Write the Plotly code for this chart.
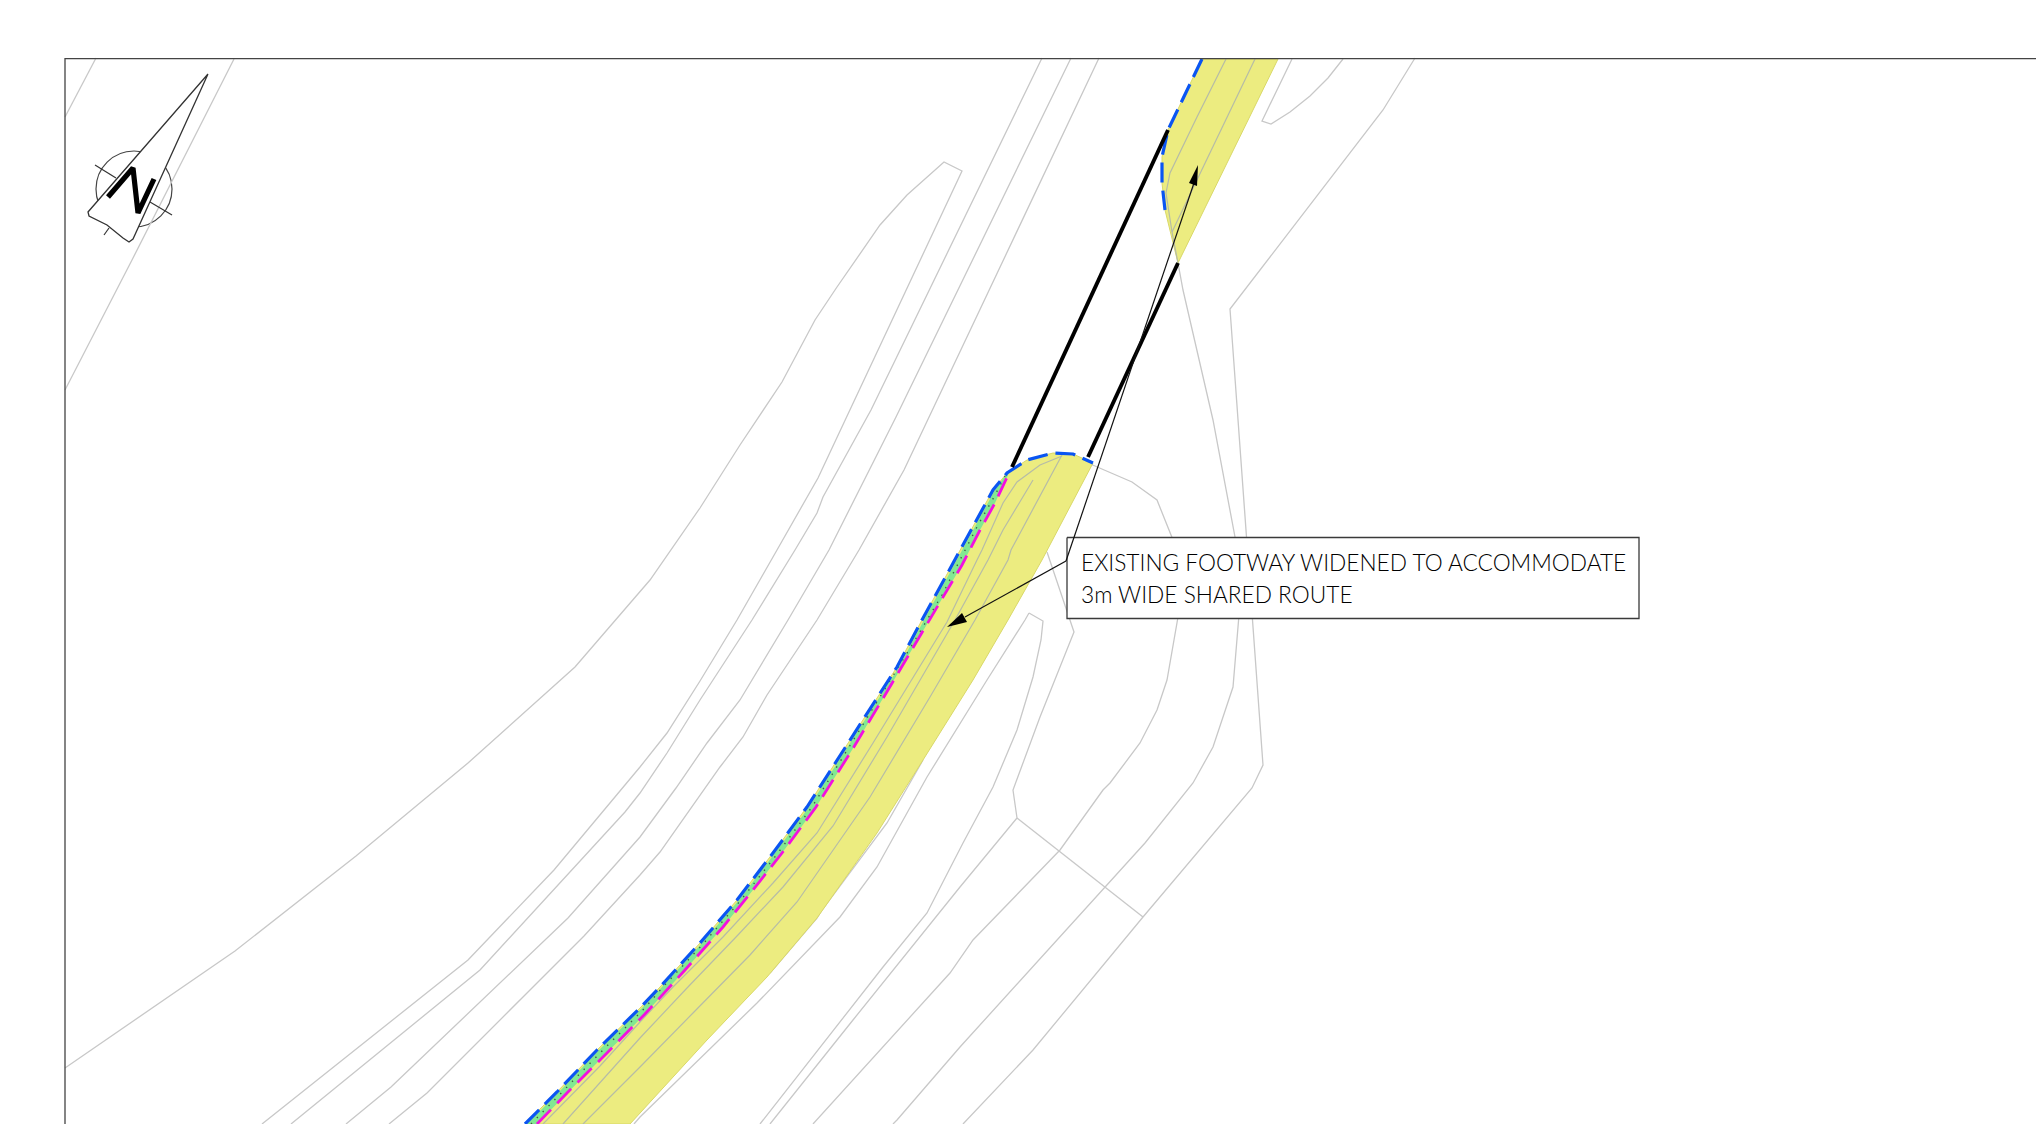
import plotly.graph_objects as go

frame = [(65, 1124), (65, 58.6), (2036, 58.6)]

kerb_nw_corner = [(96, 58), (65, 117)]
kerb_nw_long = [(234, 59), (132, 260), (65, 390)]
verge_west = [(65, 1068), (235, 951), (356, 856), (468, 763), (575, 667), (650, 580), (700, 508), (740, 445), (782, 382),
              (815, 320), (837, 287), (880, 225), (907, 195), (944, 162), (962, 171), (818, 478), (777, 550),
              (737, 620), (700, 681), (667, 733), (640, 767), (554, 870), (468, 960), (276, 1113), (262, 1124)]
carriage_w1 = [(1042, 58), (871, 410), (823, 497), (817, 513), (795, 550), (752, 620), (700, 700), (667, 753),
               (640, 793), (625, 812), (480, 970), (327, 1095), (291, 1124)]
carriage_w2 = [(1071, 58), (896, 417), (829, 550), (788, 620), (740, 700), (707, 743), (676, 788), (640, 837),
               (568, 918), (391, 1087), (346, 1124)]
carriage_w3 = [(1099, 58), (904, 470), (859, 550), (817, 620), (767, 695), (743, 737), (720, 767), (660, 852),
               (640, 875), (584, 936), (427, 1093), (389, 1124)]
island_e_left = [(1029, 613), (1025, 620), (987, 680), (927, 777), (877, 867), (840, 917), (757, 1003), (640, 1117),
                 (634, 1124)]
island_e_right = [(1029, 613), (1043, 621), (1041, 640), (1033, 677), (1017, 730), (993, 787), (963, 843), (927, 913),
                  (883, 967), (763, 1120), (760, 1124)]
kerb_e = [(1047, 552), (1063, 600), (1074, 632), (1040, 717), (1013, 790), (1017, 818), (960, 887), (853, 1020),
          (773, 1120), (770, 1124)]
cross_line = [(1017, 818), (1143, 917)]
outer_e = [(1415, 58), (1400, 83), (1383, 110), (1230, 309), (1252, 615), (1263, 765), (1252, 788), (1143, 917),
           (1033, 1050), (963, 1124)]
curve_e1 = [(1088, 463), (1132, 482), (1157, 500), (1173, 540), (1178, 617), (1167, 680), (1157, 710), (1140, 743),
            (1110, 783), (1103, 790), (1060, 850), (973, 940), (950, 973), (817, 1120), (813, 1124)]
curve_e2 = [(1178, 263), (1183, 290), (1213, 420), (1235, 537), (1239, 615), (1233, 687), (1213, 747), (1193, 783),
            (1145, 843), (1105, 887), (1072, 923), (960, 1047), (897, 1120), (893, 1124)]
wedge = [(1292, 59), (1262, 121), (1271, 124), (1290, 112), (1310, 96), (1328, 78), (1343, 59)]
verge_edge = [(923, 760), (887, 823), (822, 910), (817, 918), (770, 973)]

blue_south = [(525, 1124), (557, 1092), (597, 1050), (640, 1008), (660, 987), (700, 943), (737, 900), (773, 853),
              (807, 807), (837, 760), (867, 713), (897, 667), (922, 620), (953, 563),
              (977, 520), (993, 490), (1007, 473), (1027, 460), (1053, 453), (1073, 454), (1093, 463)]
blue_north = [(1202, 59), (1178, 108), (1168, 130), (1162, 157), (1162, 183), (1165, 210)]
magenta = [(537, 1124), (567, 1093), (607, 1053), (645, 1014), (685, 970), (723, 927), (753, 890), (782, 853),
           (816, 807), (852, 750), (888, 690), (928, 623), (962, 565), (980, 530), (995, 503), (1009, 473)]
green_outer = [(527, 1124), (559, 1092), (599, 1050), (642, 1008), (662, 987), (702, 943), (739, 900), (775, 853),
               (809, 807), (839, 760), (869, 713), (899, 667), (924, 620), (955, 563),
               (979, 520), (995, 490), (1007, 473)]
dotted_mid = [(531, 1124), (562, 1092), (602, 1051), (642, 1011), (663, 987), (703, 944), (741, 900), (778, 853),
              (812, 807), (846, 752), (880, 697), (912, 645), (942, 595), (958, 564), (978, 525),
              (994, 497), (1005, 476)]
yellow_south_east = [(1088, 463), (1042, 560), (1008, 620), (973, 680), (923, 760), (877, 833), (817, 918), (767, 977),
                     (707, 1040), (630, 1124)]
yellow_north_east = [(1178, 263), (1278, 59)]

foot_a = [(1062, 456), (1040, 465), (1017, 482), (1003, 503), (982, 550), (977, 560), (947, 622), (873, 743),
          (817, 833), (773, 883), (723, 937), (673, 987), (640, 1022), (600, 1066), (543, 1124)]
foot_b = [(1033, 480), (1003, 530), (988, 560), (955, 620), (887, 737), (833, 826), (783, 887), (737, 936),
          (687, 988), (640, 1038), (563, 1124)]
foot_c = [(1062, 455), (1011, 550), (1008, 560), (975, 620), (930, 697), (870, 797), (797, 902), (750, 955),
          (693, 1013), (640, 1067), (583, 1124)]
foot_d = [(1226, 59), (1197, 117), (1170, 173), (1166, 193), (1172, 232), (1178, 263)]
foot_e = [(1255, 59), (1200, 173), (1172, 232)]

wall_west = [(1168, 130), (1012, 467)]
wall_east = [(1178, 263), (1088, 457)]

leader_up = [(1066, 561), (1195, 180)]
arrow_up = [(1198, 165), (1189, 183), (1197, 186)]
leader_down = [(1066, 561), (965, 617)]
arrow_down = [(947, 627), (962, 613), (967, 622)]

label_box = [(1067, 537.5), (1639, 537.5), (1639, 618.5), (1067, 618.5), (1067, 537.5)]
label_lines = ["EXISTING FOOTWAY WIDENED TO ACCOMMODATE", "3m WIDE SHARED ROUTE"]
label_baselines = [572, 604]
label_left = 1080

north_needle = [(208, 74), (88, 212), (89, 216), (107, 225), (123, 238), (129, 242), (133, 239), (208, 74)]
north_letter = [(108, 197), (133, 168), (138, 213), (154, 179)]
north_tick_a = [(95, 165), (116, 178)]
north_tick_b = [(150, 202), (172, 215)]
north_tick_c = [(109, 228), (104, 235)]
north_circle_box = (96, 151, 172, 227)

GREY = "#c8c8c8"
FOOT = "#b6bca6"
fig = go.Figure()


def xs(p):
    return [a for a, _ in p]


def ys(p):
    return [b for _, b in p]


def line(p, color, width, dash=None):
    fig.add_trace(go.Scatter(x=xs(p), y=ys(p), mode="lines", hoverinfo="skip",
                             line=dict(color=color, width=width, dash=dash)))


def area(p, fill, color=None, width=0):
    fig.add_trace(go.Scatter(x=xs(p), y=ys(p), mode="lines", fill="toself", fillcolor=fill, hoverinfo="skip",
                             line=dict(color=color or fill, width=width)))


for path in [kerb_nw_corner, kerb_nw_long, verge_west, carriage_w1, carriage_w2, carriage_w3, island_e_left,
             island_e_right, kerb_e, cross_line, outer_e, curve_e1, curve_e2, wedge, verge_edge]:
    line(path, GREY, 1.3)

area(blue_south + yellow_south_east[1:] + [blue_south[0]], "#ecec80", "#d9d868", 1)
area(blue_north + yellow_north_east + [blue_north[0]], "#ecec80", "#d9d868", 1)
for path in [foot_a, foot_b, foot_c, foot_d, foot_e]:
    line(path, FOOT, 1.2)

area(green_outer + magenta[::-1] + [green_outer[0]], "#82e892")
line(dotted_mid, "#3f5f45", 1.4, "1.4px,7px")
line(magenta, "#f30fe0", 2.8, "20px,9px")
line(blue_south, "#0a55f2", 3.2, "20px,8px")
line(blue_north, "#0a55f2", 3.2, "20px,8px")
line(wall_west, "#000000", 3.9)
line(wall_east, "#000000", 3.9)

area(label_box, "#ffffff", "#3a3a3a", 1.3)
line(leader_up, "#111111", 1.2)
line(leader_down, "#111111", 1.2)
area(arrow_up, "#000000")
area(arrow_down, "#000000")

line(north_tick_a, "#333333", 1.2)
line(north_tick_b, "#333333", 1.2)
line(north_tick_c, "#333333", 1.2)
area(north_needle, "#ffffff", "#333333", 1.3)
line(north_letter, "#000000", 5.2)
line(frame, "#444444", 1.3)

shapes = [dict(type="circle", layer="below", xref="x", yref="y", x0=north_circle_box[0], y0=north_circle_box[1],
               x1=north_circle_box[2], y1=north_circle_box[3], line=dict(color="#444444", width=1.2))]
annotations = [dict(x=label_left, y=b, xref="x", yref="y", text=t, showarrow=False, xanchor="left", yanchor="bottom",
                    borderpad=0, yshift=-5,
                    font=dict(family="Lato, sans-serif", size=22.7, weight=300, color="#000000"))
               for t, b in zip(label_lines, label_baselines)]

fig.update_layout(width=2036, height=1124, margin=dict(l=0, r=0, t=0, b=0), showlegend=False,
                  paper_bgcolor="white", plot_bgcolor="white", shapes=shapes, annotations=annotations,
                  xaxis=dict(range=[0, 2036], visible=False, fixedrange=True),
                  yaxis=dict(range=[1124, 0], visible=False, fixedrange=True), hovermode=False)
fig.write_html("out.html", config={"displayModeBar": False},
               post_script="document.body.style.margin='0';document.body.style.overflow='hidden';")
